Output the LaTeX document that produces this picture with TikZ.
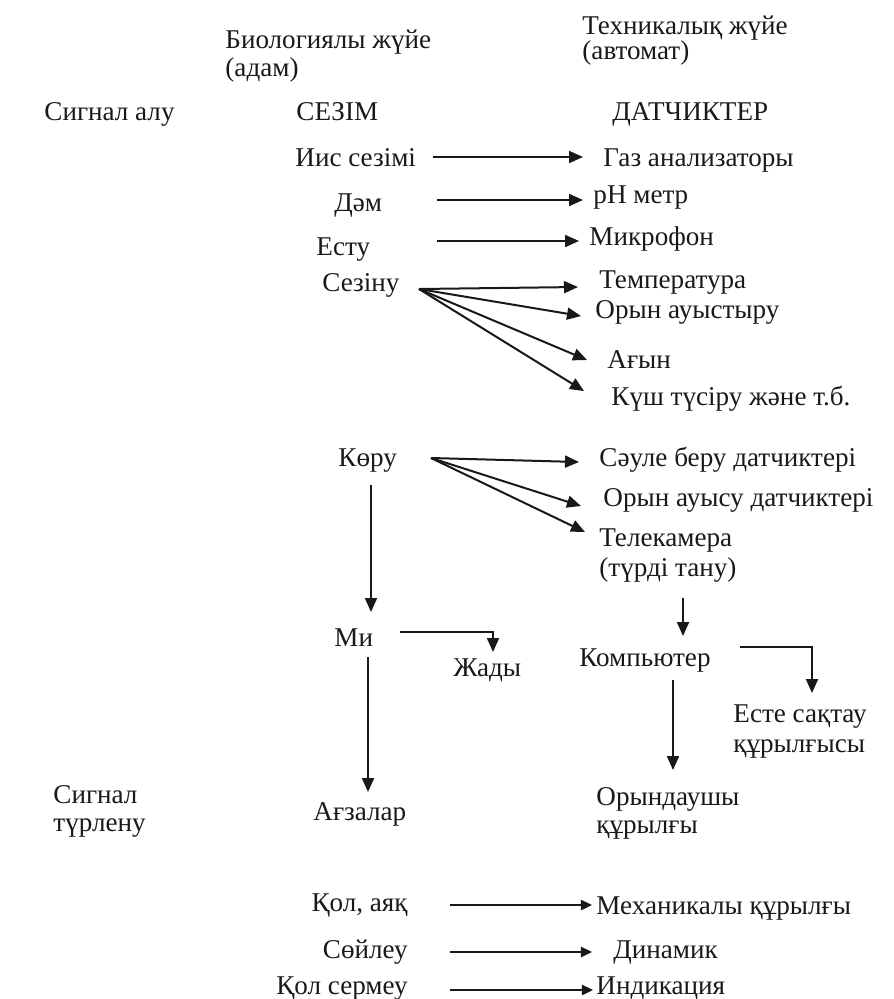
\documentclass[tikz,border=0pt]{standalone}
\usepackage{fontspec}
\setmainfont{Liberation Serif}
\usetikzlibrary{arrows.meta}
\begin{document}
\begin{tikzpicture}[x=0.45pt,y=-0.45pt,
  lbl/.style={inner sep=0pt, anchor=base west, font=\fontsize{12.2}{14}\selectfont, text=black!90},
  lblr/.style={lbl, anchor=base east},
  arr/.style={line width=0.9pt, draw=black!90, -{Triangle[length=6.3pt,width=5.4pt]}},
  arrs/.style={line width=0.9pt, draw=black!90, -{Triangle[length=5pt,width=4.6pt]}}]
\useasboundingbox[fill=white] (0,0) rectangle (894,999);

% headers
\node[lbl] (bio1) at (225,48) {Биологиялы жүйе};
\node[lbl] (bio2) at (225,76) {(адам)};
\node[lbl] (tech1) at (582,34) {Техникалық жүйе};
\node[lbl] (tech2) at (582,59) {(автомат)};
\node[lbl] (sigalu) at (44,120) {Сигнал алу};
\node[lbl] (sezim) at (296,120) {СЕЗІМ};
\node[lbl] (datch) at (612,120) {ДАТЧИКТЕР};

% senses
\node[lbl] (iis) at (295,166) {Иис сезімі};
\node[lbl] (gaz) at (603,166) {Газ анализаторы};
\node[lbl] (dam) at (334,211) {Дәм};
\node[lbl] (ph) at (593,203) {pH метр};
\node[lbl] (estu) at (316,255) {Есту};
\node[lbl] (mic) at (589,245) {Микрофон};
\node[lbl] (sezinu) at (322,291) {Сезіну};
\node[lbl] (temp) at (599,288) {Температура};
\node[lbl] (orin1) at (595,318) {Орын ауыстыру};
\node[lbl] (agyn) at (607,368) {Ағын};
\node[lbl] (kush) at (611,405) {Күш түсіру және т.б.};

\node[lbl] (koru) at (338,466) {Көру};
\node[lbl] (saule) at (599,466) {Сәуле беру датчиктері};
\node[lbl] (orin2) at (603,506) {Орын ауысу датчиктері};
\node[lbl] (tele) at (599,546) {Телекамера};
\node[lbl] (tele2) at (599,576) {(түрді тану)};

\node[lbl] (mi) at (334,646) {Ми};
\node[lbl] (zhady) at (453,676) {Жады};
\node[lbl] (comp) at (579,666) {Компьютер};
\node[lbl] (este) at (733,722) {Есте сақтау};
\node[lbl] (este2) at (733,752) {құрылғысы};

\node[lbl] (sig1) at (53,803) {Сигнал};
\node[lbl] (sig2) at (53,831) {түрлену};
\node[lbl] (agza) at (313,820) {Ағзалар};
\node[lbl] (orind) at (596,805) {Орындаушы};
\node[lbl] (oqur) at (596,833) {құрылғы};

\node[lblr] (kol) at (408,911) {Қол, аяқ};
\node[lbl] (mech) at (596,914) {Механикалы құрылғы};
\node[lblr] (soil) at (408,958) {Сөйлеу};
\node[lbl] (dinam) at (613,958) {Динамик};
\node[lblr] (kolser) at (408,994) {Қол сермеу};
\node[lbl] (indik) at (596,994) {Индикация};

% arrows: senses -> sensors
\draw[arr] ([shift={(138,-9)}]iis.base west) -- ([shift={(-20,-9)}]gaz.base west);
\draw[arr] ([shift={(103,-11)}]dam.base west) -- ([shift={(-10,-3)}]ph.base west);
\draw[arr] ([shift={(121,-14)}]estu.base west) -- ([shift={(-10,-4)}]mic.base west);

\coordinate (sz) at ([shift={(97,-2)}]sezinu.base west);
\draw[arr] (sz) -- ([shift={(-21,-1)}]temp.base west);
\draw[arr] (sz) -- ([shift={(-14,-2)}]orin1.base west);
\draw[arr] (sz) -- ([shift={(-20,-8)}]agyn.base west);
\draw[arr] (sz) -- ([shift={(-27,-14)}]kush.base west);

\coordinate (kr) at ([shift={(93,-8)}]koru.base west);
\draw[arr] (kr) -- ([shift={(-20,-4)}]saule.base west);
\draw[arr] (kr) -- ([shift={(-22,0)}]orin2.base west);
\draw[arr] (kr) -- ([shift={(-14,-14)}]tele.base west);

% vertical chains
\draw[arr] ([shift={(33,19)}]koru.base west) -- ([shift={(37,-34)}]mi.base west);
\draw[arr] ([shift={(84,22)}]tele2.base west) -- ([shift={(104,-30)}]comp.base west);
\draw[arr] ([shift={(66,-14)}]mi.base west) -| ([shift={(40,-24)}]zhady.base west);
\draw[arr] ([shift={(161,-19)}]comp.base west) -| ([shift={(79,-29)}]este.base west);
\draw[arr] ([shift={(94,14)}]comp.base west) -- ([shift={(77,-35)}]orind.base west);
\draw[arr] ([shift={(34,11)}]mi.base west) -- ([shift={(55,-28)}]agza.base west);

% bottom arrows
\draw[arrs] ([shift={(42,-6)}]kol.base east) -- ([shift={(-4,-9)}]mech.base west);
\draw[arrs] ([shift={(42,-6)}]soil.base east) -- ([shift={(-21,-6)}]dinam.base west);
\draw[arrs] ([shift={(42,-4)}]kolser.base east) -- ([shift={(-3,-4)}]indik.base west);
\end{tikzpicture}
\end{document}
